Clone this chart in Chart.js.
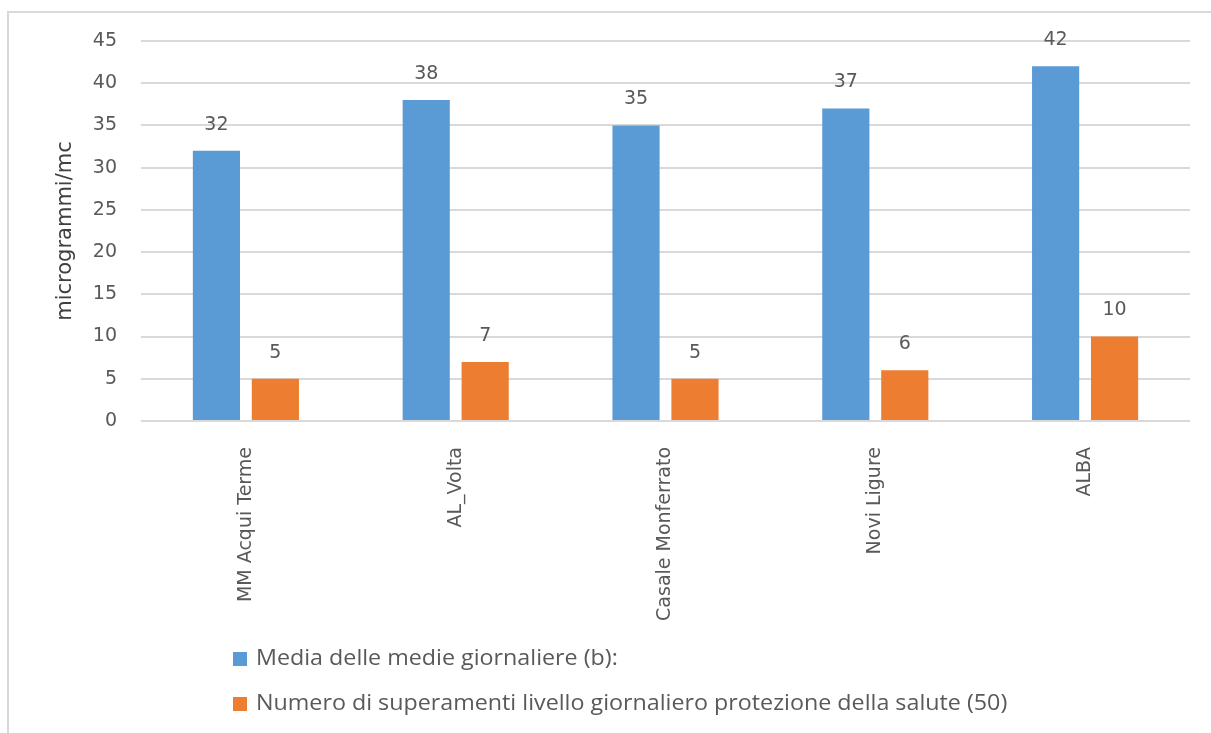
<!DOCTYPE html>
<html>
<head>
<meta charset="utf-8">
<script src="https://cdn.jsdelivr.net/npm/chart.js@4.4.0/dist/chart.umd.min.js"></script>
<style>
    html, body { margin: 0; padding: 0; background: #fff; }
    #wrap { position: relative; width: 1211px; height: 733px; overflow: hidden; }
    #frame { position: absolute; left: 7px; top: 11px; width: 1300px; height: 800px;
             border-left: 2px solid #d9d9d9; border-top: 2px solid #d9d9d9; }
    canvas { position: absolute; left: 0; top: 0; }
</style>
</head>
<body>
<div id="wrap">
    <div id="frame"></div>
    <canvas id="pm10Chart" width="1211" height="733"></canvas>
</div>
<script>
const stazioni = ['MM Acqui Terme', 'AL_Volta', 'Casale Monferrato', 'Novi Ligure', 'ALBA'];
const mediaGiornaliera = [32, 38, 35, 37, 42];
const superamenti = [5, 7, 5, 6, 10];
const yMax = 45;
const yStep = 5;
const serieNomi = [
    'Media delle medie giornaliere (b):',
    'Numero di superamenti livello giornaliero protezione della salute (50)'
];

const BLUE = '#5b9bd5';
const ORANGE = '#ed7d31';
const TEXT = '#595959';
const GRID = '#d9d9d9';

/* =========================
   VALUE LABELS ABOVE BARS
========================== */
const valueLabels = {
    id: 'valueLabels',
    afterDatasetsDraw(chart) {
        const ctx = chart.ctx;
        ctx.save();
        ctx.font = '19px "DejaVu Sans"';
        ctx.fillStyle = TEXT;
        ctx.textAlign = 'center';
        ctx.textBaseline = 'middle';
        chart.data.datasets.forEach((ds, i) => {
            chart.getDatasetMeta(i).data.forEach((bar, j) => {
                ctx.fillText(String(ds.data[j]), bar.x, bar.y - 26);
            });
        });
        ctx.restore();
    }
};

/* =========================
   STACKED LEGEND (bottom left)
========================== */
const stackedLegend = {
    id: 'stackedLegend',
    afterDraw(chart) {
        const ctx = chart.ctx;
        ctx.save();
        ctx.textBaseline = 'middle';
        chart.data.datasets.forEach((ds, i) => {
            const y = 659 + i * 45;
            ctx.fillStyle = ds.backgroundColor;
            ctx.fillRect(233, y - 7, 14, 14);
            // text is a little wider than the plain font, so stretch it
            ctx.save();
            ctx.translate(256, y);
            ctx.scale(1.108, 1);
            ctx.font = '21px "Open Sans"';
            ctx.fillStyle = TEXT;
            ctx.fillText(ds.label, 0, 0);
            ctx.restore();
        });
        ctx.restore();
    }
};

const ctx = document.getElementById('pm10Chart').getContext('2d');

new Chart(ctx, {
    type: 'bar',
    data: {
        labels: stazioni,
        datasets: [
            { label: serieNomi[0], data: mediaGiornaliera, backgroundColor: BLUE },
            { label: serieNomi[1], data: superamenti, backgroundColor: ORANGE }
        ]
    },
    options: {
        responsive: false,
        animation: false,
        categoryPercentage: 0.562,
        barPercentage: 0.8,
        layout: { padding: { top: 41, right: 21, left: 0, bottom: 0 } },
        plugins: {
            legend: { display: false },
            tooltip: { enabled: false }
        },
        scales: {
            x: {
                grid: { display: false },
                border: { display: false },
                ticks: {
                    color: TEXT,
                    font: { family: 'DejaVu Sans', size: 19 },
                    minRotation: 90,
                    maxRotation: 90,
                    padding: 18,
                    autoSkip: false
                },
                afterFit: (scale) => { scale.height = 312; }
            },
            y: {
                min: 0,
                max: yMax,
                grid: { color: GRID, lineWidth: 2, drawTicks: false },
                border: { display: false },
                ticks: {
                    stepSize: yStep,
                    color: TEXT,
                    font: { family: 'DejaVu Sans', size: 19 },
                    padding: 24
                },
                title: {
                    display: true,
                    text: 'microgrammi/mc',
                    color: '#404040',
                    font: { family: 'DejaVu Sans', size: 21 },
                    padding: { top: 53, bottom: 0 }
                },
                afterFit: (scale) => { scale.width = 141; }
            }
        }
    },
    plugins: [valueLabels, stackedLegend]
});
</script>
</body>
</html>
